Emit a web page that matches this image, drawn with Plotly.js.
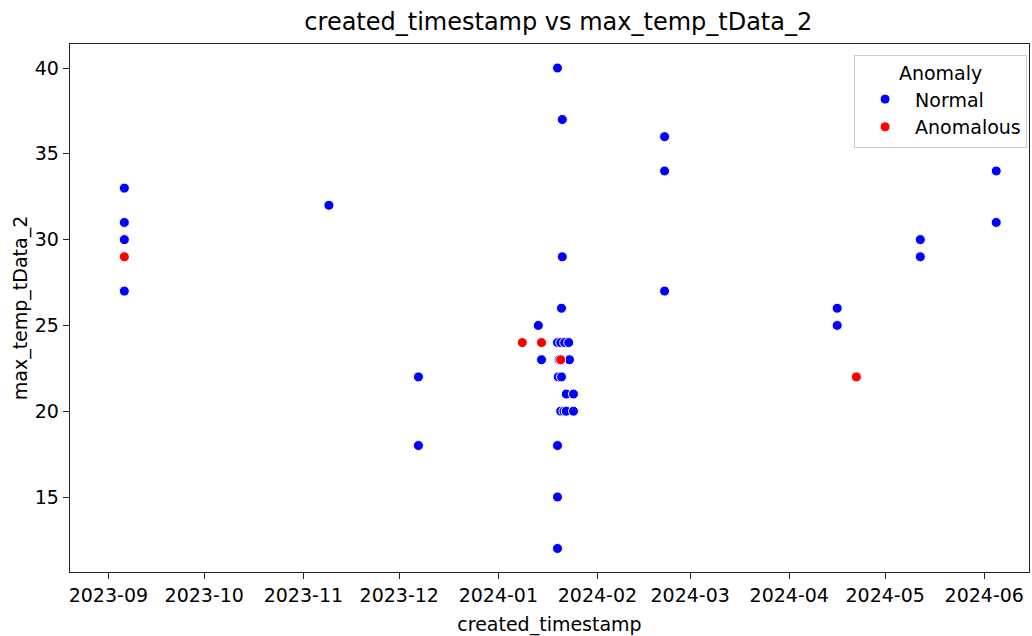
<!DOCTYPE html>
<html>
<head>
<meta charset="utf-8">
<script src="https://cdn.plot.ly/plotly-3.0.1.min.js"></script>
<style>html,body{margin:0;padding:0;background:#fff;}#chart{width:1032px;height:636px;}</style>
</head>
<body>
<div id="chart"></div>
<script>
// Normal points
const normalDates = [
  "2023-09-06","2023-09-06","2023-09-06","2023-09-06",
  "2023-11-09",
  "2023-12-07","2023-12-07",
  "2024-01-13 12:00","2024-01-14 12:00",
  "2024-01-19 12:00","2024-01-21 00:00","2024-01-21 00:00","2024-01-20 18:00",
  "2024-01-19 12:00","2024-01-19 12:00","2024-01-19 12:00",
  "2024-01-19 12:00","2024-01-20 12:00","2024-01-21 18:00","2024-01-23 00:00",
  "2024-01-20 00:00","2024-01-23 06:00",
  "2024-01-19 18:00","2024-01-20 18:00",
  "2024-01-22 06:00","2024-01-24 12:00",
  "2024-01-20 12:00","2024-01-21 12:00","2024-01-22 06:00","2024-01-24 12:00",
  "2024-02-22","2024-02-22","2024-02-22",
  "2024-04-16","2024-04-16",
  "2024-05-12","2024-05-12",
  "2024-06-04 18:00","2024-06-04 18:00"
];
const normalValues = [
  33,31,30,27,
  32,
  22,18,
  25,23,
  40,37,29,26,
  18,15,12,
  24,24,24,24,
  23,23,
  22,22,
  21,21,
  20,20,20,20,
  36,34,27,
  26,25,
  30,29,
  34,31
];
// Anomalous points
const anomalousDates = ["2023-09-06","2024-01-08 12:00","2024-01-14 12:00","2024-01-20 12:00","2024-04-22"];
const anomalousValues = [29,24,24,23,22];

const F = "DejaVu Sans";
const mk = (c) => ({color: c, size: 10, line: {color: "#fff", width: 1}});

const traces = [
  {type: "scatter", mode: "markers", name: "Normal", x: normalDates, y: normalValues, marker: mk("#0000ff")},
  {type: "scatter", mode: "markers", name: "Anomalous", x: anomalousDates, y: anomalousValues, marker: mk("#ff0000")}
];

const layout = {
  width: 1032, height: 636,
  margin: {l: 70, r: 3, t: 44, b: 64},
  paper_bgcolor: "#fff", plot_bgcolor: "#fff",
  font: {family: F, size: 19, color: "#000"},
  title: {text: "created_timestamp vs max_temp_tData_2", font: {family: F, size: 24, color: "#000"}, x: 0.541, xanchor: "center", y: 0.966, yanchor: "middle"},
  xaxis: {
    type: "date",
    range: ["2023-08-20", "2024-06-15"],
    dtick: "M1", tick0: "2023-09-01", tickformat: "%Y-%m",
    showgrid: false, zeroline: false,
    showline: true, linecolor: "#222", linewidth: 1.3, mirror: true,
    ticks: "outside", ticklen: 6, tickcolor: "#222",
    tickfont: {family: F, size: 19, color: "#000"},
    title: {text: "created_timestamp", font: {family: F, size: 19, color: "#000"}, standoff: 12}
  },
  yaxis: {
    range: [10.63, 41.4],
    tickvals: [15, 20, 25, 30, 35, 40],
    showgrid: false, zeroline: false,
    showline: true, linecolor: "#222", linewidth: 1.3, mirror: true,
    ticks: "outside", ticklen: 6, tickcolor: "#222",
    tickfont: {family: F, size: 19, color: "#000"},
    title: {text: "max_temp_tData_2", font: {family: F, size: 19, color: "#000"}, standoff: 2}
  },
  legend: {
    x: 0.998, xanchor: "right", y: 0.98, yanchor: "top",
    bgcolor: "rgba(255,255,255,0.8)", bordercolor: "#cccccc", borderwidth: 1,
    font: {family: F, size: 19, color: "#000"},
    title: {text: "Anomaly", side: "top center", font: {family: F, size: 19, color: "#000"}},
    itemwidth: 50
  },
  showlegend: true
};

Plotly.newPlot("chart", traces, layout, {displayModeBar: false, staticPlot: true});
</script>
</body>
</html>
